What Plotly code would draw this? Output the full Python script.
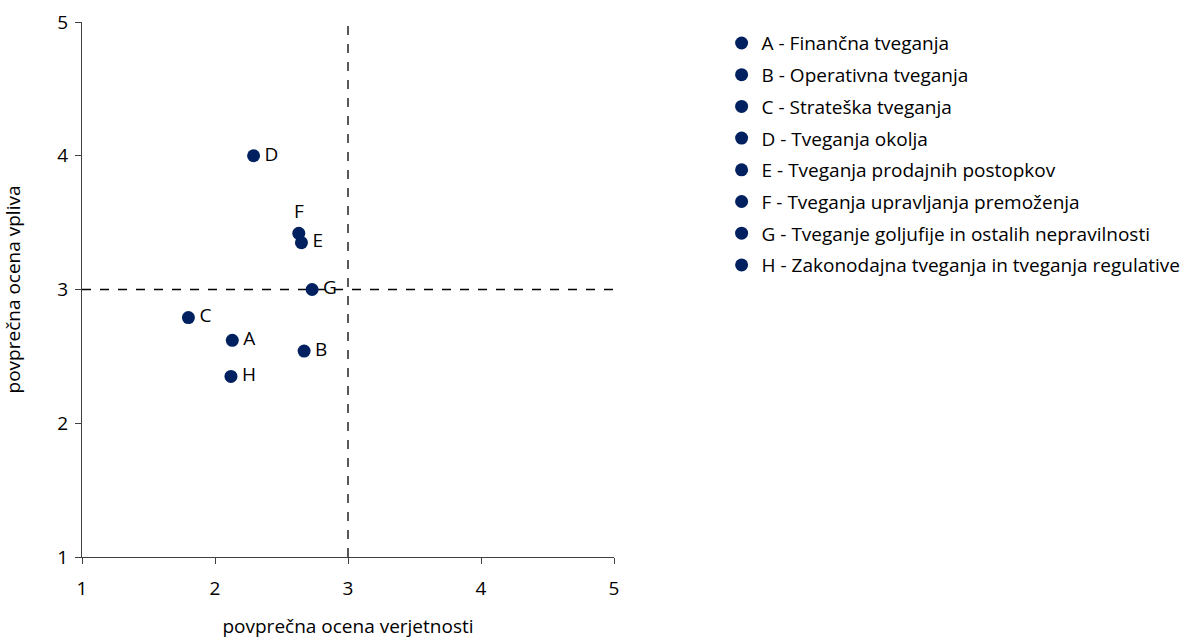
import plotly.graph_objects as go

# Risk categories: code, legend description, probability (x), impact (y)
codes = ["A", "B", "C", "D", "E", "F", "G", "H"]
names = [
    "A - Finančna tveganja",
    "B - Operativna tveganja",
    "C - Strateška tveganja",
    "D - Tveganja okolja",
    "E - Tveganja prodajnih postopkov",
    "F - Tveganja upravljanja premoženja",
    "G - Tveganje goljufije in ostalih nepravilnosti",
    "H - Zakonodajna tveganja in tveganja regulative",
]
verjetnost = [2.13, 2.67, 1.80, 2.29, 2.65, 2.63, 2.73, 2.12]
vpliv = [2.62, 2.54, 2.79, 4.00, 3.35, 3.42, 3.00, 2.35]
label_pos = ["middle right", "middle right", "middle right", "middle right",
             "middle right", "top center", "middle right", "middle right"]

x_ticks = [1, 2, 3, 4, 5]
y_ticks = [1, 2, 3, 4, 5]

FONT = "'Open Sans', Lato, sans-serif"
FSIZE = 19
NAVY = "#002060"

fig = go.Figure()

# one trace per risk so that each gets its own legend entry
for i, name in enumerate(names):
    fig.add_trace(go.Scatter(
        x=[verjetnost[i]], y=[vpliv[i]],
        mode="markers",
        name=name,
        legendgroup=codes[i],
        marker=dict(color=NAVY, size=13),
        hoverinfo="skip",
    ))

# point labels (transparent markers keep the text offset from the dots)
fig.add_trace(go.Scatter(
    x=verjetnost, y=vpliv,
    mode="markers+text",
    text=codes,
    textposition=label_pos,
    marker=dict(size=16, opacity=0),
    textfont=dict(family=FONT, size=FSIZE, color="#000000"),
    showlegend=False,
    hoverinfo="skip",
))

# quadrant dividers at the scale midpoint
fig.add_shape(type="line", xref="x", yref="y", x0=3, x1=3, y0=1, y1=5,
              line=dict(color="#000000", width=1.3, dash="dash"), layer="below")
fig.add_shape(type="line", xref="x", yref="y", x0=1, x1=5, y0=3, y1=3,
              line=dict(color="#000000", width=1.3, dash="dash"), layer="below")

axis_common = dict(
    showgrid=False, zeroline=False, automargin=False,
    showline=True, linecolor="#404040", linewidth=1.3,
    ticks="outside", ticklen=6, tickcolor="#404040", tickwidth=1.3,
    tickfont=dict(family=FONT, size=FSIZE, color="#000000"),
)

fig.update_xaxes(range=[1, 5], tickvals=x_ticks, ticklabelstandoff=8,
                 title=dict(text="povprečna ocena verjetnosti",
                            font=dict(family=FONT, size=FSIZE, color="#000000"),
                            standoff=24),
                 **axis_common)
fig.update_yaxes(range=[1, 5], tickvals=y_ticks, ticklabelstandoff=3,
                 title=dict(text="povprečna ocena vpliva",
                            font=dict(family=FONT, size=FSIZE, color="#000000"),
                            standoff=36),
                 **axis_common)

fig.update_layout(
    width=1196, height=639,
    margin=dict(l=82, r=581, t=22, b=82),
    plot_bgcolor="white", paper_bgcolor="white",
    font=dict(family=FONT, size=FSIZE, color="#000000"),
    legend=dict(
        x=1.2, xanchor="left", y=0.996, yanchor="top",
        font=dict(family=FONT, size=FSIZE, color="#000000"),
        tracegroupgap=4,
        itemwidth=30,
    ),
)

fig.write_html("out.html")
